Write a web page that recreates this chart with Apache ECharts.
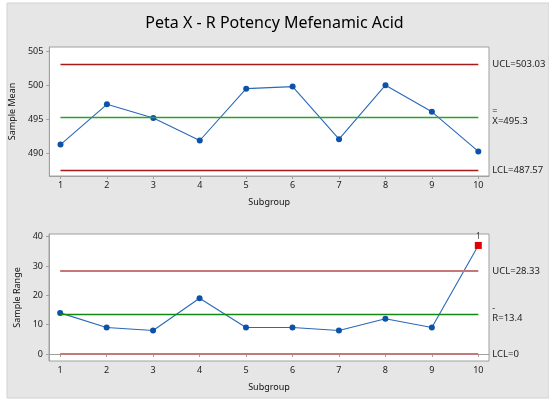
<!DOCTYPE html>
<html><head><meta charset="utf-8">
<script src="https://cdn.jsdelivr.net/npm/echarts@6/dist/echarts.min.js"></script>
<style>html,body{margin:0;padding:0;background:#fff}#c{width:549px;height:399px}</style>
</head><body><div id="c"></div>
<script>
const subgroups = [1,2,3,4,5,6,7,8,9,10];
const means = [491.3,497.2,495.2,491.9,499.5,499.8,492.1,500.0,496.1,490.3];
const ranges = [14,9,8,19,9,9,8,12,9,37];
const meanLimits = [503.03, 495.3, 487.57];   // UCL, CL, LCL
const rangeLimits = [28.33, 13.4, 0];          // UCL, CL, LCL
const xTicks = [1,2,3,4,5,6,7,8,9,10];
const meanTicks = [490,495,500,505];
const rangeTicks = [0,10,20,30,40];
const flagged = [9]; // index of out-of-control range point

const FONT = 'Noto Sans';
const chart = echarts.init(document.getElementById('c'), null, {renderer:'canvas'});

function limitLines(lim, redColor, redW, greenColor, greenW, clLabel, x0, x1){
  const mk = (v, color, w, fmt) => [
    {coord:[x0, v], lineStyle:{color:color, width:w, type:'solid'}, label:{formatter:fmt}},
    {coord:[x1, v]}
  ];
  return {
    silent:true, symbol:['none','none'], animation:false,
    label:{show:true, position:'end', distance:14, color:'#222', fontSize:9.5, fontFamily:FONT,
      rich:{b:{fontSize:9, lineHeight:7, color:'#222', fontFamily:FONT}, t:{fontSize:9.5, lineHeight:12, color:'#222', fontFamily:FONT}}},
    data:[
      mk(lim[0], redColor, redW, 'UCL=' + lim[0]),
      mk(lim[1], greenColor, greenW, clLabel),
      mk(lim[2], redColor, redW, 'LCL=' + lim[2])
    ]
  };
}

const xAxisBase = (gi) => ({
  type:'value', gridIndex:gi, min:0.76, max:10.23,
  name:'Subgroup', nameLocation:'middle', nameGap:22,
  nameTextStyle:{fontSize:9, color:'#111', fontFamily:FONT},
  axisLine:{show:true, lineStyle:{color:'#a0a0a0'}},
  axisTick:{show:true, length:3, lineStyle:{color:'#a0a0a0'}, customValues:xTicks},
  axisLabel:{fontSize:9, color:'#222', margin:5, fontFamily:FONT, customValues:xTicks},
  splitLine:{show:false}
});

chart.setOption({
  animation:false,
  backgroundColor:'#ffffff',
  graphic:[{type:'rect', shape:{x:7, y:3, width:542, height:395}, style:{fill:'#e6e6e6', stroke:'#d2d2d2', lineWidth:1}, z:-10}],
  title:{text:'Peta X - R Potency Mefenamic Acid', left:'center', top:10,
    textStyle:{fontSize:16, fontWeight:'normal', color:'#000', fontFamily:FONT}},
  grid:[
    {left:49, top:47, width:440, height:129, show:true, backgroundColor:'#fff', borderColor:'#a0a0a0', borderWidth:1},
    {left:49, top:234, width:440, height:127, show:true, backgroundColor:'#fff', borderColor:'#a0a0a0', borderWidth:1}
  ],
  xAxis:[xAxisBase(0), xAxisBase(1)],
  yAxis:[
    {type:'value', gridIndex:0, min:486.7, max:505.6,
      name:'Sample Mean', nameLocation:'middle', nameGap:23, nameRotate:90,
      nameTextStyle:{fontSize:9, color:'#111', fontFamily:FONT},
      axisLine:{show:true, lineStyle:{color:'#a0a0a0'}},
      axisTick:{show:true, length:3, lineStyle:{color:'#a0a0a0'}, customValues:meanTicks},
      axisLabel:{fontSize:9, color:'#222', margin:6, fontFamily:FONT, customValues:meanTicks},
      splitLine:{show:false}},
    {type:'value', gridIndex:1, min:-2.4, max:40.9,
      name:'Sample Range', nameLocation:'middle', nameGap:16, nameRotate:90,
      nameTextStyle:{fontSize:9, color:'#111', fontFamily:FONT},
      axisLine:{show:true, lineStyle:{color:'#a0a0a0'}},
      axisTick:{show:true, length:3, lineStyle:{color:'#a0a0a0'}, customValues:rangeTicks},
      axisLabel:{fontSize:9, color:'#222', margin:6, fontFamily:FONT, customValues:rangeTicks},
      splitLine:{show:false}}
  ],
  series:[
    {type:'line', xAxisIndex:0, yAxisIndex:0,
      data: subgroups.map((s,i)=>[s, means[i]]),
      symbol:'circle', symbolSize:6,
      lineStyle:{color:'#2a68b8', width:1.1},
      itemStyle:{color:'#0b52a8'},
      markLine: limitLines(meanLimits, '#a81a1a', 1.3, '#2aa02a', 1.3, '{b|=}\n{t|X=' + meanLimits[1] + '}', 1, 10)
    },
    {type:'line', xAxisIndex:1, yAxisIndex:1,
      data: subgroups.map((s,i)=> flagged.includes(i)
        ? {value:[s, ranges[i]], symbol:'rect', symbolSize:7, itemStyle:{color:'#e00000'},
           label:{show:true, formatter:'1', position:'top', distance:1, fontSize:8, color:'#333', fontFamily:FONT}}
        : [s, ranges[i]]),
      symbol:'circle', symbolSize:6,
      lineStyle:{color:'#2a68b8', width:1.1},
      itemStyle:{color:'#0b52a8'},
      markLine: limitLines(rangeLimits, '#c47878', 2, '#118a11', 1.3, '{b|-}\n{t|R=' + rangeLimits[1] + '}', 1, 10)
    }
  ],
  labelLayout:{hideOverlap:false}
});
</script></body></html>
